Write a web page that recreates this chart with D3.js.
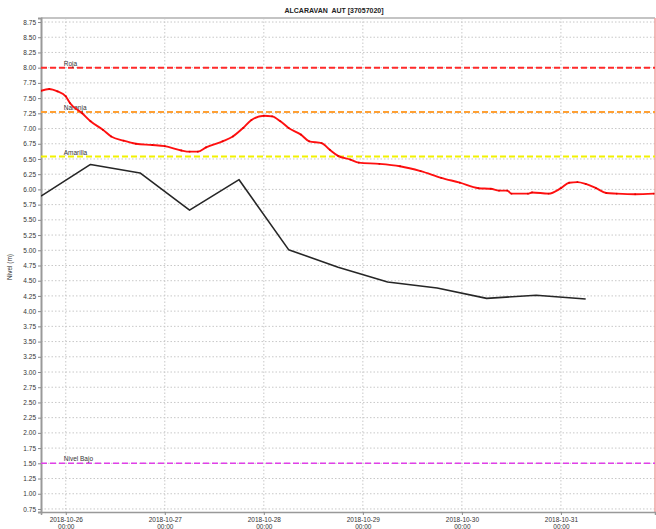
<!DOCTYPE html>
<html>
<head>
<meta charset="utf-8">
<script src="https://cdn.jsdelivr.net/npm/d3@7"></script>
<style>
  html, body { margin: 0; padding: 0; background: #fff; }
  svg { display: block; font-family: "Liberation Sans", Arial, sans-serif; }
</style>
</head>
<body>
<svg id="chart" width="656" height="529"></svg>
<script>
// ---- Data ----
const chartTitle = "ALCARAVAN  AUT [37057020]";
const yLabel = "Nivel (m)";

// Alert thresholds (m)
const thresholdNames = ["Roja", "Naranja", "Amarilla", "Nivel Bajo"];
const thresholdValues = [8.00, 7.27, 6.54, 1.50];

// Automatic sensor level (m)
const sensorLevel = [
  ["2018-10-25 18:00", 7.62], ["2018-10-25 20:00", 7.65], ["2018-10-25 22:00", 7.61],
  ["2018-10-26 00:00", 7.53], ["2018-10-26 01:00", 7.42], ["2018-10-26 04:00", 7.25],
  ["2018-10-26 06:00", 7.12], ["2018-10-26 09:00", 6.98], ["2018-10-26 11:00", 6.87],
  ["2018-10-26 14:00", 6.80], ["2018-10-26 17:00", 6.75], ["2018-10-26 21:00", 6.73],
  ["2018-10-27 00:00", 6.71], ["2018-10-27 04:00", 6.64], ["2018-10-27 06:00", 6.62],
  ["2018-10-27 08:00", 6.62], ["2018-10-27 10:00", 6.69], ["2018-10-27 14:00", 6.79],
  ["2018-10-27 16:30", 6.87], ["2018-10-27 19:00", 7.01], ["2018-10-27 21:00", 7.14],
  ["2018-10-28 00:00", 7.21], ["2018-10-28 02:00", 7.20], ["2018-10-28 04:00", 7.12],
  ["2018-10-28 06:00", 7.01], ["2018-10-28 09:00", 6.90], ["2018-10-28 11:00", 6.79],
  ["2018-10-28 14:00", 6.76], ["2018-10-28 16:00", 6.65], ["2018-10-28 18:00", 6.55],
  ["2018-10-28 21:00", 6.49], ["2018-10-28 23:00", 6.44], ["2018-10-29 04:00", 6.42],
  ["2018-10-29 09:00", 6.38], ["2018-10-29 14:00", 6.30], ["2018-10-29 19:00", 6.19],
  ["2018-10-29 23:30", 6.11], ["2018-10-30 04:00", 6.02], ["2018-10-30 07:00", 6.01],
  ["2018-10-30 09:00", 5.98], ["2018-10-30 11:00", 5.98], ["2018-10-30 12:00", 5.93],
  ["2018-10-30 16:00", 5.93], ["2018-10-30 17:00", 5.95], ["2018-10-30 21:00", 5.93],
  ["2018-10-31 00:00", 6.02], ["2018-10-31 02:00", 6.11], ["2018-10-31 04:00", 6.12],
  ["2018-10-31 06:00", 6.09], ["2018-10-31 08:30", 6.02], ["2018-10-31 11:00", 5.94],
  ["2018-10-31 13:30", 5.93], ["2018-10-31 18:00", 5.92], ["2018-10-31 22:30", 5.93]
];

// Staff gauge readings (m)
const gaugeLevel = [
  ["2018-10-25 18:00", 5.89], ["2018-10-26 06:00", 6.41], ["2018-10-26 18:00", 6.27],
  ["2018-10-27 06:00", 5.66], ["2018-10-27 18:00", 6.16], ["2018-10-28 06:00", 5.01],
  ["2018-10-28 18:00", 4.72], ["2018-10-29 06:00", 4.48], ["2018-10-29 18:00", 4.38],
  ["2018-10-30 06:00", 4.21], ["2018-10-30 18:00", 4.26], ["2018-10-31 06:00", 4.20]
];

const xDomain = ["2018-10-25 18:00", "2018-10-31 22:48"];
const yDomain = [0.70, 8.816];
const yTickValues = d3.range(0.75, 8.76, 0.25);
const xTickLabels = ["2018-10-26", "2018-10-27", "2018-10-28", "2018-10-29", "2018-10-30", "2018-10-31"];

// ---- Styles ----
const thresholdStyle = {
  "Roja":       { color: "#ff2a2a", width: 2 },
  "Naranja":    { color: "#ffa033", width: 2 },
  "Amarilla":   { color: "#f2f200", width: 2 },
  "Nivel Bajo": { color: "#e040e8", width: 1.5 }
};

// ---- Layout ----
const svg = d3.select("#chart");
const plot = { left: 41, right: 655, top: 18, bottom: 512 };
const parse = d3.utcParse("%Y-%m-%d %H:%M");

const x = d3.scaleUtc().domain(xDomain.map(parse)).range([plot.left, plot.right]);
const y = d3.scaleLinear().domain(yDomain).range([plot.bottom, plot.top]);

svg.append("defs").append("clipPath").attr("id", "plotClip")
  .append("rect")
  .attr("x", plot.left).attr("y", plot.top)
  .attr("width", plot.right - plot.left).attr("height", plot.bottom - plot.top);

// Grid
const grid = svg.append("g").attr("class", "grid");
grid.selectAll("line.h").data(yTickValues).join("line")
  .attr("x1", plot.left).attr("x2", plot.right)
  .attr("y1", d => y(d)).attr("y2", d => y(d))
  .attr("stroke", "#c8c8c8").attr("stroke-width", 1).attr("stroke-dasharray", "1.5,2");
const xTickDates = xTickLabels.map(d => parse(d + " 00:00"));
grid.selectAll("line.v").data(xTickDates).join("line")
  .attr("x1", d => x(d)).attr("x2", d => x(d))
  .attr("y1", plot.top).attr("y2", plot.bottom)
  .attr("stroke", "#c8c8c8").attr("stroke-width", 1).attr("stroke-dasharray", "1.5,2");

// Frame
svg.append("line").attr("x1", plot.left).attr("x2", plot.right)
  .attr("y1", plot.top).attr("y2", plot.top)
  .attr("stroke", "#c4c4c4").attr("stroke-width", 2);
svg.append("line").attr("x1", plot.right).attr("x2", plot.right)
  .attr("y1", plot.top).attr("y2", plot.bottom)
  .attr("stroke", "#f2a0a0").attr("stroke-width", 1.5);

// Axes
const yAxis = d3.axisLeft(y).tickValues(yTickValues).tickFormat(d3.format(".2f"))
  .tickSize(3).tickPadding(2);
const gy = svg.append("g").attr("transform", `translate(${plot.left},0)`).call(yAxis);
gy.select(".domain").attr("stroke", "#999").attr("stroke-width", 2);
gy.selectAll(".tick line").attr("stroke", "#888");
gy.selectAll(".tick text").attr("font-size", 6.5).attr("fill", "#333")
  .attr("font-family", "Liberation Sans, Arial, sans-serif");

const xAxis = d3.axisBottom(x).tickValues(xTickDates).tickFormat(() => "")
  .tickSize(3);
const gx = svg.append("g").attr("transform", `translate(0,${plot.bottom})`).call(xAxis);
gx.select(".domain").attr("stroke", "#999").attr("stroke-width", 1.5);
gx.selectAll(".tick line").attr("stroke", "#888");
gx.selectAll(".tick").each(function(d, i) {
  const t = d3.select(this).select("text")
    .attr("font-size", 6.5).attr("fill", "#333").attr("y", 0).attr("dy", null)
    .attr("font-family", "Liberation Sans, Arial, sans-serif");
  t.append("tspan").attr("x", 0).attr("y", 9.5).text(xTickLabels[i]);
  t.append("tspan").attr("x", 0).attr("y", 16.5).text("00:00");
});

// Thresholds
const thr = svg.append("g").attr("clip-path", "url(#plotClip)");
thresholdNames.forEach((name, i) => {
  const st = thresholdStyle[name];
  thr.append("line")
    .attr("x1", plot.left).attr("x2", plot.right)
    .attr("y1", y(thresholdValues[i])).attr("y2", y(thresholdValues[i]))
    .attr("stroke", st.color).attr("stroke-width", st.width)
    .attr("stroke-dasharray", "6,3");
});
svg.append("g").selectAll("text").data(thresholdNames).join("text")
  .attr("x", x(parse("2018-10-26 00:00")) - 2)
  .attr("y", (d, i) => y(thresholdValues[i]) - 2)
  .attr("font-size", 6.5).attr("fill", "#333")
  .text(d => d);

// Series
const line = d3.line()
  .x(d => x(parse(d[0])))
  .y(d => y(d[1]));

const series = svg.append("g").attr("clip-path", "url(#plotClip)");
series.append("path").datum(gaugeLevel)
  .attr("d", line).attr("fill", "none")
  .attr("stroke", "#262626").attr("stroke-width", 1.6).attr("stroke-linejoin", "round");
series.append("path").datum(sensorLevel)
  .attr("d", line.curve(d3.curveMonotoneX)).attr("fill", "none")
  .attr("stroke", "#ff1010").attr("stroke-width", 1.9).attr("stroke-linejoin", "round");
series.selectAll("rect.mk").data(sensorLevel).join("rect")
  .attr("x", d => x(parse(d[0])) - 0.8).attr("y", d => y(d[1]) - 0.8)
  .attr("width", 1.6).attr("height", 1.6).attr("fill", "#e00000");

// Title and y label
svg.append("text").attr("x", 334).attr("y", 13)
  .attr("text-anchor", "middle").attr("font-size", 7).attr("font-weight", "bold")
  .attr("fill", "#222").attr("xml:space", "preserve")
  .style("white-space", "pre")
  .text(chartTitle);
svg.append("text")
  .attr("transform", `translate(12,${(plot.top + plot.bottom) / 2 + 2}) rotate(-90)`)
  .attr("text-anchor", "middle").attr("font-size", 6.5).attr("fill", "#333")
  .text(yLabel);
</script>
</body>
</html>
